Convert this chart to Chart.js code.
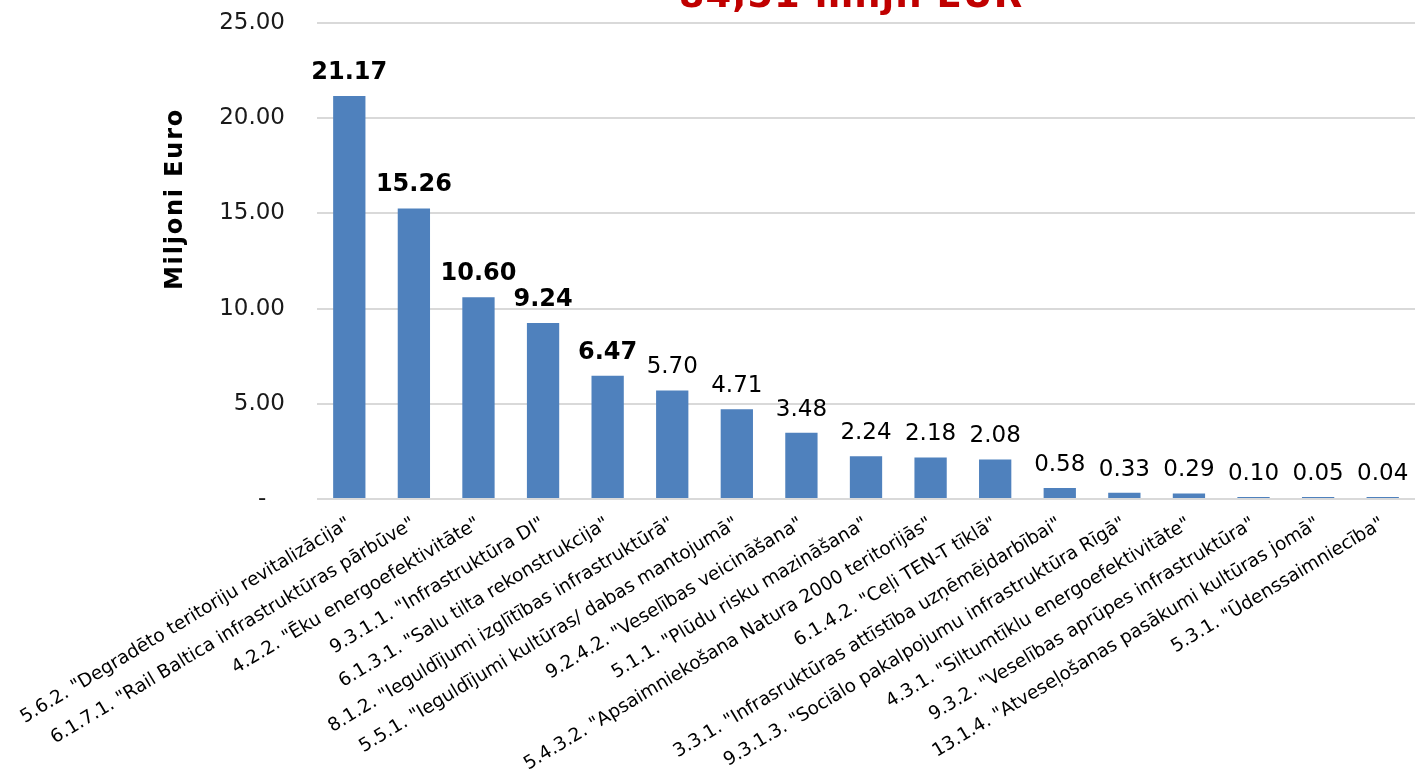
<!DOCTYPE html>
<html>
<head>
<meta charset="utf-8">
<script src="https://cdn.jsdelivr.net/npm/chart.js@4"></script>
<style>
  html, body { margin: 0; padding: 0; background: #ffffff; }
  #wrap { width: 1415px; height: 781px; }
</style>
</head>
<body>
<div id="wrap"><canvas id="c" width="1415" height="781"></canvas></div>
<script>
const categories = [
  '5.6.2. "Degradēto teritoriju revitalizācija"',
  '6.1.7.1. "Rail Baltica infrastruktūras pārbūve"',
  '4.2.2. "Ēku energoefektivitāte"',
  '9.3.1.1. "Infrastruktūra DI"',
  '6.1.3.1. "Salu tilta rekonstrukcija"',
  '8.1.2. "Ieguldījumi izglītības infrastruktūrā"',
  '5.5.1. "Ieguldījumi kultūras/ dabas mantojumā"',
  '9.2.4.2. "Veselības veicināšana"',
  '5.1.1. "Plūdu risku mazināšana"',
  '5.4.3.2. "Apsaimniekošana Natura 2000 teritorijās"',
  '6.1.4.2. "Ceļi TEN-T tīklā"',
  '3.3.1. "Infrasruktūras attīstība uzņēmējdarbībai"',
  '9.3.1.3. "Sociālo pakalpojumu infrastruktūra Rīgā"',
  '4.3.1. "Siltumtīklu energoefektivitāte"',
  '9.3.2. "Veselības aprūpes infrastruktūra"',
  '13.1.4. "Atveseļošanas pasākumi kultūras jomā"',
  '5.3.1. "Ūdenssaimniecība"'
];
const values = [21.17, 15.26, 10.60, 9.24, 6.47, 5.70, 4.71, 3.48, 2.24, 2.18, 2.08, 0.58, 0.33, 0.29, 0.10, 0.05, 0.04];
const yTicks = [0, 5, 10, 15, 20, 25];
const titleText = '84,51 miljn EUR';
const yAxisTitle = 'Miljoni Euro';
const boldLabelCount = 5;

const FONT = '"DejaVu Sans", Verdana, sans-serif';

const overlay = {
  id: 'overlay',
  afterDatasetsDraw(chart) {
    const ctx = chart.ctx;
    const meta = chart.getDatasetMeta(0);
    ctx.save();
    ctx.textAlign = 'center';
    ctx.textBaseline = 'alphabetic';
    ctx.fillStyle = '#000000';
    meta.data.forEach((bar, i) => {
      const bold = i < boldLabelCount;
      ctx.font = (bold ? 'bold 24px ' : '23px ') + FONT;
      ctx.fillText(values[i].toFixed(2), bar.x, bar.y - 17);
    });
    ctx.restore();
  },
  afterDraw(chart) {
    const ctx = chart.ctx;
    ctx.save();
    ctx.font = 'bold 37px ' + FONT;
    ctx.fillStyle = '#C00000';
    ctx.textAlign = 'center';
    ctx.textBaseline = 'alphabetic';
    try { ctx.letterSpacing = '1px'; } catch (e) {}
    ctx.fillText(titleText, 851, 7);
    ctx.font = 'bold 24px ' + FONT;
    ctx.fillStyle = '#000000';
    try { ctx.letterSpacing = '1.8px'; } catch (e) {}
    ctx.translate(182, 199);
    ctx.rotate(-Math.PI / 2);
    ctx.fillText(yAxisTitle, 0, 0);
    ctx.restore();
  }
};

new Chart(document.getElementById('c'), {
  type: 'bar',
  data: {
    labels: categories,
    datasets: [{
      data: values,
      backgroundColor: '#4F81BD',
      borderWidth: 0,
      minBarLength: 2,
      categoryPercentage: 1.0,
      barPercentage: 0.5
    }]
  },
  options: {
    responsive: false,
    animation: false,
    layout: { padding: { top: 23, right: 0, bottom: 0, left: 0 } },
    plugins: {
      legend: { display: false },
      title: { display: false },
      tooltip: { enabled: false }
    },
    scales: {
      x: {
        grid: { display: false, drawTicks: false },
        border: { display: false },
        ticks: {
          autoSkip: false,
          minRotation: 31,
          maxRotation: 31,
          padding: 14,
          color: '#000000',
          font: { family: FONT, size: 18.5 }
        },
        afterFit(scale) {
          scale.height = 282;
          scale.paddingLeft = 0;
          scale.paddingRight = 0;
        }
      },
      y: {
        min: 0,
        max: 25,
        afterBuildTicks(scale) {
          scale.ticks = yTicks.map(v => ({ value: v }));
        },
        grid: { color: '#D9D9D9', lineWidth: 2, drawTicks: false },
        border: { display: false },
        ticks: {
          padding: 32,
          color: '#1a1a1a',
          font: { family: FONT, size: 23 },
          callback: (v) => v === 0 ? '-\u2002 ' : Number(v).toFixed(2)
        },
        afterFit(scale) {
          scale.width = 317;
          scale.paddingTop = 0;
          scale.paddingBottom = 0;
        }
      }
    }
  },
  plugins: [overlay]
});
</script>
</body>
</html>
